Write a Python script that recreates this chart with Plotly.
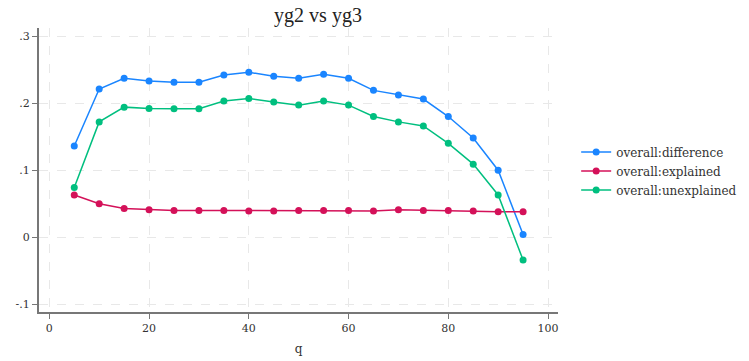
import plotly.graph_objects as go

q = [5, 10, 15, 20, 25, 30, 35, 40, 45, 50, 55, 60, 65, 70, 75, 80, 85, 90, 95]
difference = [0.136, 0.221, 0.237, 0.233, 0.231, 0.231, 0.242, 0.246, 0.240, 0.237,
              0.243, 0.237, 0.219, 0.212, 0.206, 0.180, 0.148, 0.100, 0.004]
explained = [0.063, 0.050, 0.043, 0.041, 0.040, 0.040, 0.040, 0.039, 0.039, 0.040,
             0.040, 0.040, 0.039, 0.041, 0.040, 0.040, 0.039, 0.038, 0.038]
unexplained = [0.074, 0.172, 0.194, 0.192, 0.1915, 0.1915, 0.203, 0.207, 0.2015, 0.197,
               0.203, 0.197, 0.180, 0.172, 0.166, 0.140, 0.109, 0.063, -0.034]
y_ticks = [-0.1, 0, 0.1, 0.2, 0.3]
y_ticklabels = ["-.1", "0", ".1", ".2", ".3"]
x_ticks = [0, 20, 40, 60, 80, 100]

series = [
    ("overall:difference", difference, "#1a85ff"),
    ("overall:explained", explained, "#d41159"),
    ("overall:unexplained", unexplained, "#00bf7f"),
]

fig = go.Figure()
for name, vals, col in series:
    fig.add_trace(go.Scatter(x=q, y=vals, name=name, mode="lines+markers",
                             line=dict(color=col, width=1.5),
                             marker=dict(color=col, size=7)))

font = "DejaVu Serif"
tfont = "Liberation Serif"
fig.update_layout(
    width=749, height=361,
    margin=dict(l=39, r=191, t=28, b=49, autoexpand=False),
    paper_bgcolor="white", plot_bgcolor="white",
    font=dict(family=font, size=12, color="#333333"),
    title=dict(text="yg2 vs yg3", x=(39 + 279) / 749, xanchor="center",
               y=1 - 15 / 361, yanchor="middle",
               font=dict(family=tfont, size=20, color="#222222")),
    showlegend=True,
    legend=dict(x=1.035, xanchor="left", y=0.614, yanchor="top",
                font=dict(family=font, size=12, color="#333333"),
                bgcolor="rgba(0,0,0,0)", tracegroupgap=0),
    xaxis=dict(range=[-2.07, 102.0], tickvals=x_ticks, showline=True,
               linecolor="#777777", linewidth=2, ticks="outside", ticklen=5,
               tickcolor="#777777", showgrid=True, gridcolor="#e8e8e8",
               griddash="dash", gridwidth=1, zeroline=False, automargin=False,
               title=dict(text="q", standoff=10, font=dict(family=font, size=12)),
               tickfont=dict(family=font, size=11)),
    yaxis=dict(range=[-0.1115, 0.312], tickvals=y_ticks, ticktext=y_ticklabels,
               showline=True, linecolor="#777777", linewidth=2, ticks="outside",
               ticklen=5, tickcolor="#777777", showgrid=True, gridcolor="#e8e8e8",
               griddash="dash", gridwidth=1, zeroline=False, automargin=False,
               tickfont=dict(family=font, size=11)),
)

fig.write_html("out.html")
